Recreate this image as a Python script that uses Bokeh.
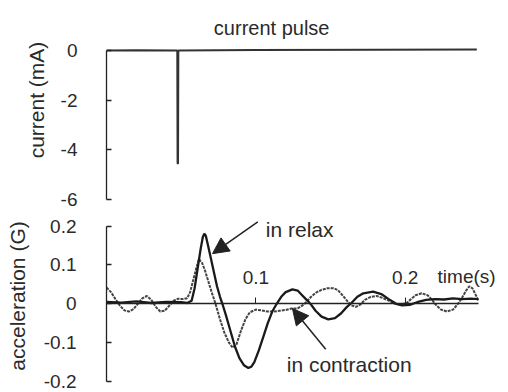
from bokeh.plotting import figure
from bokeh.layouts import column
from bokeh.models import Range1d, LinearAxis, FixedTicker, Label, Arrow, NormalHead
from bokeh.embed import file_html
from bokeh.resources import INLINE

FONT = "Liberation Sans"
TXT = "#2a2a2a"

# --- current pulse (top panel) ---
pulse_t = [0.0, 0.020, 0.0474, 0.0476, 0.0479, 0.0481, 0.100, 0.180, 0.248]
pulse_i = [0.0, 0.01, 0.0, -4.55, -4.55, 0.0, 0.02, 0.03, 0.04]
cur_ticks = [0, -2, -4, -6]
cur_labels = {0: "0", -2: "-2", -4: "-4", -6: "-6"}

# --- acceleration (bottom panel) ---
relax_t = [0.000, 0.010, 0.020, 0.030, 0.040, 0.050, 0.054, 0.057, 0.059, 0.061,
           0.063, 0.0645, 0.0655, 0.0665, 0.068, 0.070, 0.072, 0.074, 0.076, 0.078,
           0.080, 0.083, 0.086, 0.089, 0.092, 0.095, 0.097, 0.099, 0.102, 0.105,
           0.108, 0.111, 0.114, 0.117, 0.120, 0.1245, 0.128, 0.131, 0.134, 0.137,
           0.140, 0.144, 0.1485, 0.153, 0.157, 0.161, 0.164, 0.168, 0.172, 0.1785,
           0.184, 0.189, 0.194, 0.198, 0.203, 0.208, 0.214, 0.220, 0.226, 0.232,
           0.238, 0.244, 0.249]
relax_a = [0.005, 0.003, 0.006, 0.002, 0.005, 0.004, 0.002, 0.008, 0.040, 0.090,
           0.140, 0.172, 0.180, 0.175, 0.150, 0.115, 0.080, 0.045, 0.018, -0.005,
           -0.030, -0.070, -0.110, -0.140, -0.158, -0.165, -0.162, -0.150, -0.120, -0.085,
           -0.050, -0.020, 0.000, 0.018, 0.030, 0.037, 0.034, 0.022, 0.010, -0.002,
           -0.018, -0.033, -0.040, -0.037, -0.025, -0.008, 0.002, 0.018, 0.027, 0.031,
           0.025, 0.012, 0.000, -0.004, -0.003, 0.004, 0.010, 0.012, 0.011, 0.014,
           0.012, 0.013, 0.012]

contr_t = [0.000, 0.003, 0.006, 0.009, 0.012, 0.015, 0.018, 0.021, 0.024, 0.027,
           0.030, 0.033, 0.036, 0.039, 0.042, 0.045, 0.048, 0.051, 0.054, 0.056,
           0.058, 0.060, 0.0619, 0.064, 0.066, 0.068, 0.070, 0.073, 0.076, 0.079,
           0.082, 0.0845, 0.087, 0.090, 0.093, 0.096, 0.100, 0.104, 0.108, 0.112,
           0.116, 0.120, 0.124, 0.128, 0.131, 0.134, 0.137, 0.140, 0.144, 0.148,
           0.152, 0.155, 0.158, 0.161, 0.164, 0.167, 0.170, 0.173, 0.177, 0.181,
           0.185, 0.189, 0.193, 0.197, 0.201, 0.204, 0.207, 0.211, 0.215, 0.218,
           0.221, 0.224, 0.228, 0.232, 0.235, 0.238, 0.241, 0.243, 0.245, 0.247,
           0.249]
contr_a = [0.042, 0.030, 0.012, -0.005, -0.017, -0.020, -0.014, 0.000, 0.014, 0.020,
           0.010, -0.008, -0.020, -0.018, -0.005, 0.008, 0.013, 0.012, 0.014, 0.030,
           0.060, 0.090, 0.115, 0.105, 0.085, 0.060, 0.035, 0.000, -0.040, -0.075,
           -0.100, -0.113, -0.105, -0.070, -0.040, -0.022, -0.015, -0.017, -0.020, -0.020,
           -0.018, -0.016, -0.012, -0.012, -0.005, 0.005, 0.018, 0.028, 0.036, 0.040,
           0.040, 0.035, 0.022, 0.008, -0.004, -0.008, -0.002, 0.010, 0.018, 0.020,
           0.015, 0.008, 0.000, -0.002, 0.002, 0.012, 0.022, 0.027, 0.022, 0.010,
           -0.005, -0.015, -0.020, -0.015, -0.002, 0.015, 0.035, 0.045, 0.040, 0.025,
           0.008]
acc_ticks = [0.2, 0.1, 0, -0.1, -0.2]
acc_labels = {0.2: "0.2", 0.1: "0.1", 0: "0", -0.1: "-0.1", -0.2: "-0.2"}
time_ticks = [0.1, 0.2]


def style_yaxis(ax, standoff, label_standoff):
    ax.major_tick_in = 5
    ax.major_tick_out = 0
    ax.minor_tick_line_color = None
    ax.axis_line_color = "#222222"
    ax.axis_line_width = 1.3
    ax.major_tick_line_color = "#222222"
    ax.major_tick_line_width = 1.3
    ax.major_label_text_font = FONT
    ax.major_label_text_font_size = "19px"
    ax.major_label_text_color = TXT
    ax.major_label_standoff = standoff
    ax.axis_label_text_font = FONT
    ax.axis_label_text_font_size = "21px"
    ax.axis_label_text_font_style = "normal"
    ax.axis_label_text_color = TXT
    ax.axis_label_standoff = label_standoff


p1 = figure(width=508, height=210, x_range=Range1d(0, 0.2692), y_range=Range1d(-6, 2.014),
            output_backend="svg", toolbar_location=None, x_axis_location=None,
            min_border_left=106, min_border_right=0, min_border_top=0, min_border_bottom=11)
p1.grid.visible = False
p1.outline_line_color = None
p1.yaxis.ticker = FixedTicker(ticks=cur_ticks)
p1.yaxis.major_label_overrides = cur_labels
p1.yaxis.bounds = (-6, 0)
p1.yaxis.axis_label = "current (mA)"
style_yaxis(p1.yaxis[0], 29, 10)
p1.line(pulse_t, pulse_i, line_color="#333333", line_width=2)
p1.add_layout(Label(x=0.0719, y=0.926, text="current pulse", text_font=FONT,
                    text_font_size="20px", text_color=TXT, text_baseline="alphabetic"))

p2 = figure(width=508, height=182, x_range=Range1d(0, 0.2692), y_range=Range1d(-0.2, 0.24),
            output_backend="svg", toolbar_location=None, x_axis_location=None,
            min_border_left=106, min_border_right=0, min_border_top=0, min_border_bottom=11)
p2.grid.visible = False
p2.outline_line_color = None
p2.yaxis.ticker = FixedTicker(ticks=acc_ticks)
p2.yaxis.major_label_overrides = acc_labels
p2.yaxis.bounds = (-0.2, 0.2)
p2.yaxis.axis_label = "acceleration (G)"
style_yaxis(p2.yaxis[0], 30, 12)

xax = LinearAxis(fixed_location=0, ticker=FixedTicker(ticks=time_ticks), bounds=(0, 0.249))
xax.major_tick_out = 6
xax.major_tick_in = 0
xax.minor_tick_line_color = None
xax.axis_line_color = "#222222"
xax.axis_line_width = 1.3
xax.major_tick_line_color = "#222222"
xax.major_label_text_font = FONT
xax.major_label_text_font_size = "19px"
xax.major_label_text_color = TXT
xax.major_label_standoff = 14
p2.add_layout(xax, "above")

p2.line(contr_t, contr_a, line_color="#444444", line_width=2, line_dash="3 1")
p2.line(relax_t, relax_a, line_color="#1a1a1a", line_width=2.3)

p2.add_layout(Label(x=0.2217, y=0.0695, text="time(s)", text_font=FONT,
                    text_font_size="19px", text_color=TXT, text_baseline="alphabetic"))
p2.add_layout(Label(x=0.1067, y=0.191, text="in relax", text_font=FONT,
                    text_font_size="21px", text_color=TXT, text_baseline="alphabetic"))
p2.add_layout(Label(x=0.1207, y=-0.156, text="in contraction", text_font=FONT,
                    text_font_size="21px", text_color=TXT, text_baseline="alphabetic"))
p2.add_layout(Arrow(x_start=0.1013, y_start=0.211, x_end=0.071, y_end=0.129,
                    line_color="#222222", line_width=1.5,
                    end=NormalHead(size=16, fill_color="#222222", line_color="#222222")))
p2.add_layout(Arrow(x_start=0.1468, y_start=-0.117, x_end=0.1245, y_end=-0.012,
                    line_color="#222222", line_width=1.5,
                    end=NormalHead(size=16, fill_color="#222222", line_color="#222222")))

layout = column(p1, p2, spacing=0)
open("out.html", "w").write(file_html(layout, INLINE))
